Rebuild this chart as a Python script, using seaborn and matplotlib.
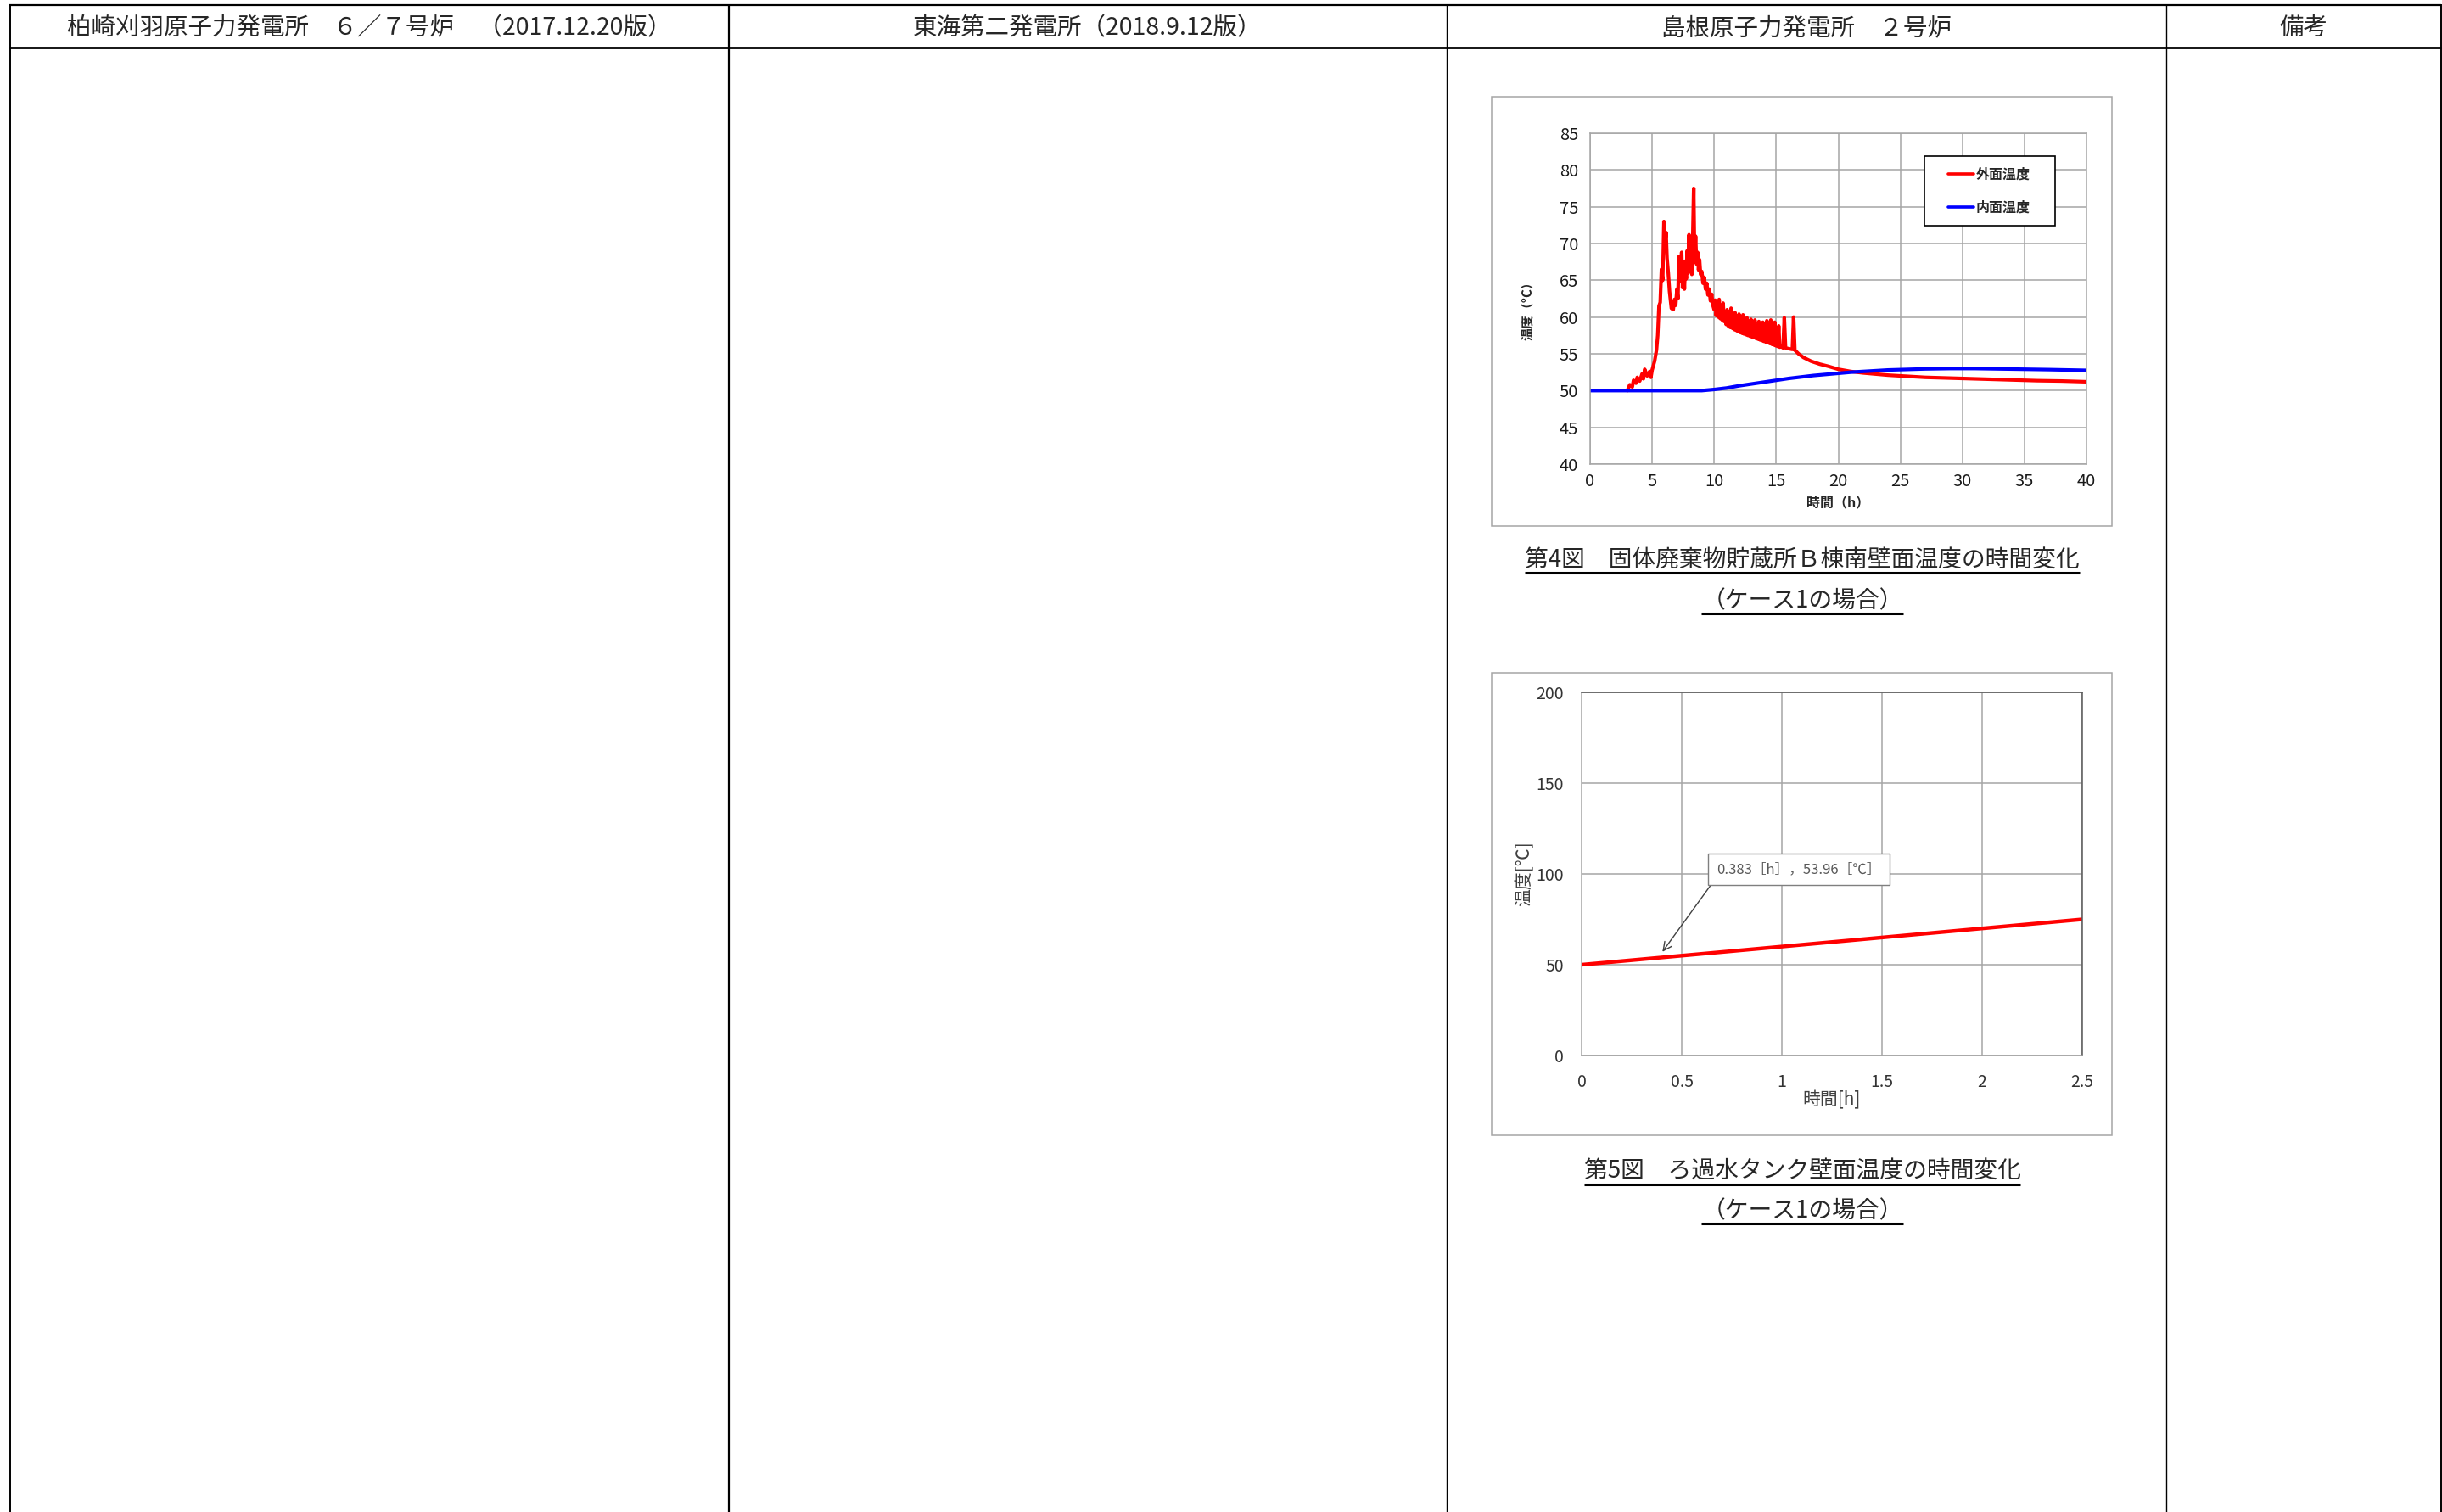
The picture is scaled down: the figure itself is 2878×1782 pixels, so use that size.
import numpy as np
import pandas as pd
import matplotlib
matplotlib.use("Agg")
import matplotlib.pyplot as plt
import seaborn as sns
from matplotlib.lines import Line2D
from matplotlib.patches import Rectangle

# header of the comparison table
headers = ["柏崎刈羽原子力発電所　６／７号炉　（2017.12.20版）",
           "東海第二発電所（2018.9.12版）",
           "島根原子力発電所　２号炉",
           "備考"]

# fig.4 : solid waste store B, south wall (case 1)
outer_time = [3.0, 3.2, 3.4, 3.5, 3.7, 3.8, 4.0, 4.2, 4.3, 4.4, 4.6, 4.8, 4.9, 5.0,
              5.2, 5.35, 5.45, 5.55, 5.65, 5.75, 5.85, 5.95, 6.05, 6.12, 6.2, 6.3,
              6.4, 6.55, 6.7, 6.8, 6.9, 7.0, 7.08, 7.15, 7.22, 7.3, 7.38, 7.45,
              7.52, 7.6, 7.68, 7.75, 7.82, 7.9, 7.97, 8.05, 8.12, 8.2, 8.27, 8.35,
              8.42, 8.5, 8.58, 8.66, 8.74, 8.82, 8.9, 9.0, 9.1, 9.2, 9.3, 9.4,
              9.5, 9.6, 9.7, 9.8, 9.9,
              10.0, 10.08, 10.16, 10.24, 10.32, 10.4, 10.48, 10.56, 10.64, 10.72,
              10.8, 10.88, 10.96, 11.04, 11.12, 11.2, 11.28, 11.36, 11.44, 11.52,
              11.6, 11.68, 11.76, 11.84, 11.92, 12.0, 12.08, 12.16, 12.24, 12.32,
              12.4, 12.48, 12.56, 12.64, 12.72, 12.8, 12.88, 12.96, 13.04, 13.12,
              13.2, 13.28, 13.36, 13.44, 13.52, 13.6, 13.68, 13.76, 13.84, 13.92,
              14.0, 14.08, 14.16, 14.24, 14.32, 14.4, 14.48, 14.56, 14.64, 14.72,
              14.8, 14.88, 14.96, 15.04, 15.12, 15.2, 15.28, 15.4, 15.55, 15.65,
              15.75, 16.0, 16.3, 16.4, 16.5, 16.8, 17.2, 17.8, 18.5, 19.2, 20.0,
              21.0, 22.0, 23.0, 24.0, 25.0, 26.0, 27.0, 28.0, 29.0, 30.0, 32.0,
              34.0, 36.0, 38.0, 40.0]
outer_temp = [50.0, 50.8, 50.5, 51.4, 51.0, 51.8, 51.3, 52.3, 51.6, 52.9, 52.0, 52.6, 51.8, 52.8,
              54.0, 55.5, 57.5, 61.5, 62.0, 66.5, 65.0, 73.0, 70.0, 71.5, 68.0, 66.0,
              63.5, 61.2, 61.0, 62.4, 61.6, 63.8, 62.5, 68.2, 64.8, 66.6, 68.8, 64.0,
              66.5, 63.8, 67.6, 65.2, 69.0, 66.0, 71.2, 66.2, 69.8, 65.8, 70.6, 77.5,
              68.0, 71.0, 67.2, 68.8, 66.4, 67.8, 65.8, 66.2, 64.6, 65.4, 63.8, 64.6,
              63.0, 63.8, 62.2, 63.1, 61.6,
              61.0, 62.3, 60.2, 61.8, 60.0, 62.4, 59.8, 61.2, 59.6, 61.9,
              59.4, 60.6, 59.0, 61.0, 58.8, 60.4, 58.6, 61.2, 58.5, 60.0,
              58.3, 60.6, 58.2, 59.6, 58.0, 60.4, 57.9, 59.4, 57.8, 60.3,
              57.7, 59.2, 57.6, 59.9, 57.5, 59.0, 57.4, 59.7, 57.3, 58.8,
              57.2, 59.6, 57.1, 58.7, 57.0, 59.4, 56.9, 58.6, 56.8, 59.3,
              56.7, 58.4, 56.6, 59.5, 56.5, 58.2, 56.4, 59.6, 56.3, 58.0,
              56.2, 59.3, 56.1, 57.5, 56.0, 58.8, 55.9, 56.0, 55.8, 59.9,
              55.8, 55.7, 55.6, 60.0, 55.5, 55.0, 54.5, 54.0, 53.6, 53.3, 52.9,
              52.6, 52.4, 52.25, 52.1, 52.0, 51.9, 51.8, 51.75, 51.7, 51.65, 51.55,
              51.45, 51.35, 51.3, 51.2]
inner_time = [0, 5, 9, 10, 11, 12, 13, 14, 15, 16, 17, 18, 19, 20, 21, 22, 23, 24,
              25, 27, 29, 31, 33, 35, 37, 40]
inner_temp = [50.0, 50.0, 50.0, 50.15, 50.35, 50.65, 50.9, 51.15, 51.4, 51.65, 51.85,
              52.05, 52.2, 52.35, 52.5, 52.6, 52.7, 52.8, 52.85, 52.95, 53.0, 53.0,
              52.95, 52.9, 52.85, 52.75]
series_names = ["外面温度", "内面温度"]
series_colors = ["#ff0000", "#0000ff"]

# fig.5 : filtered water tank wall (case 1)
tank_time = [0.0, 0.5, 1.0, 1.5, 2.0, 2.5]
tank_temp = [50.0, 55.0, 60.0, 65.0, 70.0, 75.0]
note_time = 0.383
note_temp = 53.96

captions = ["第4図　固体廃棄物貯蔵所Ｂ棟南壁面温度の時間変化", "（ケース1の場合）",
            "第5図　ろ過水タンク壁面温度の時間変化", "（ケース1の場合）"]

sns.set_style("white")
plt.rcParams['font.family'] = ['Noto Sans CJK JP', 'DejaVu Sans']

W, H = 2878, 1782
fig = plt.figure(figsize=(W / 100, H / 100), dpi=100)


def fx(px):
    return px / W


def fy(py):
    return 1 - py / H


def hline(y, x0, x1, lw):
    fig.add_artist(Line2D([fx(x0), fx(x1)], [fy(y), fy(y)], color="black", lw=lw,
                          transform=fig.transFigure, solid_capstyle="butt"))


def vline(x, y0, y1, lw):
    fig.add_artist(Line2D([fx(x), fx(x)], [fy(y0), fy(y1)], color="black", lw=lw,
                          transform=fig.transFigure, solid_capstyle="butt"))


# table frame
hline(6, 11, 2877, 1.6)
hline(56, 11, 2877, 2.0)
vline(11.5, 5, H, 1.4)
vline(859, 5, H, 1.6)
vline(1705, 5, H, 1.0)
vline(2553, 5, H, 1.0)
vline(2876.5, 5, H, 1.4)

col_edges = [11, 859, 1705, 2553, 2877]
for i, h in enumerate(headers):
    cx = (col_edges[i] + col_edges[i + 1]) / 2
    fig.text(fx(cx), fy(33), h, ha="center", va="center", fontsize=20.5)

# gray frames around the pasted charts
for x0, y0, x1, y1 in [(1758, 114, 2489, 620), (1758, 793, 2489, 1338)]:
    fig.add_artist(Rectangle((fx(x0), fy(y1)), fx(x1 - x0), (y1 - y0) / H,
                             transform=fig.transFigure, fill=False,
                             ec="#a6a6a6", lw=1.1))

grid_c = "#a6a6a6"
narrow = ['Liberation Sans Narrow', 'Noto Sans CJK JP']

# ---- fig.4
ax1 = fig.add_axes([fx(1874), fy(547), fx(2459 - 1874), (547 - 157) / H])
case1 = pd.concat([
    pd.DataFrame({"時間": outer_time, "温度": outer_temp, "系列": series_names[0]}),
    pd.DataFrame({"時間": inner_time, "温度": inner_temp, "系列": series_names[1]}),
])
sns.lineplot(data=case1, x="時間", y="温度", hue="系列", hue_order=series_names,
             palette=series_colors, linewidth=3.0, estimator=None, sort=False, ax=ax1)
ax1.set_xlim(0, 40)
ax1.set_ylim(40, 85)
ax1.set_xticks(np.arange(0, 41, 5))
ax1.set_yticks(np.arange(40, 86, 5))
ax1.grid(True, color=grid_c, lw=1.1)
for s in ax1.spines.values():
    s.set_color(grid_c)
    s.set_linewidth(1.1)
ax1.tick_params(length=4, color=grid_c, width=1.1, pad=6, labelsize=14.5, labelcolor="#1a1a1a")
ax1.tick_params(axis="x", pad=3)
for lab in ax1.get_xticklabels() + ax1.get_yticklabels():
    lab.set_family(narrow)
ax1.set_xlabel("時間（h）", fontsize=11.5, fontweight="bold")
ax1.set_ylabel("温度（°C）", fontsize=11, fontweight="bold")
ax1.xaxis.set_label_coords(0.5, -0.097)
ax1.yaxis.set_label_coords(-0.113, 0.472)
# legend entries without frame, frame drawn as its own box
leg = ax1.legend(loc="center left", bbox_to_anchor=(0.7214, 0.8255), borderaxespad=0,
                 fontsize=11.5, frameon=False, borderpad=0,
                 handlelength=1.85, handletextpad=0.2, labelspacing=1.45)
for t in leg.get_texts():
    t.set_fontweight("bold")
for l in leg.get_lines():
    l.set_linewidth(2.6)
ax1.add_patch(Rectangle((0.6735, 0.7205), 0.937 - 0.6735, 0.931 - 0.7205,
                        transform=ax1.transAxes, fill=True, fc="white",
                        ec="black", lw=1.2, zorder=4))
leg.set_zorder(5)

# ---- fig.5
ax2 = fig.add_axes([fx(1864), fy(1244), fx(2454 - 1864), (1244 - 816) / H])
sns.lineplot(x=tank_time, y=tank_temp, color="#ff0000", linewidth=3.2, ax=ax2)
ax2.set_xlim(0, 2.5)
ax2.set_ylim(0, 200)
ax2.set_xticks([0, 0.5, 1, 1.5, 2, 2.5])
ax2.set_xticklabels(["0", "0.5", "1", "1.5", "2", "2.5"])
ax2.set_yticks([0, 50, 100, 150, 200])
ax2.grid(True, color=grid_c, lw=1.1)
for k, s in ax2.spines.items():
    s.set_linewidth(1.1)
    s.set_color("#595959" if k in ("top", "right") else grid_c)
ax2.tick_params(length=7, color=grid_c, width=1.1, pad=8, labelsize=14, labelcolor="#333333")
ax2.set_xlabel("時間[h]", fontsize=15, color="#404040")
ax2.set_ylabel("温度[℃]", fontsize=15, color="#404040")
ax2.xaxis.set_label_coords(0.5, -0.097)
ax2.yaxis.set_label_coords(-0.095, 0.5)
ax2.annotate(f"{note_time:.3f}［h］，{note_temp:.2f}［℃］",
             xy=(note_time, note_temp), xytext=(0.434, 0.512), textcoords="axes fraction",
             ha="center", va="center", fontsize=12, color="#595959",
             bbox=dict(boxstyle="square,pad=0.6", fc="white", ec="#7f7f7f", lw=1),
             arrowprops=dict(arrowstyle="->", color="#404040", lw=1, relpos=(0, 0),
                             shrinkA=0, shrinkB=6, mutation_scale=18))

# captions with underline
fig.canvas.draw()
renderer = fig.canvas.get_renderer()
cap_y = [660, 708, 1381, 1427]
for s, y in zip(captions, cap_y):
    t = fig.text(fx(2124), fy(y), s, ha="center", va="center", fontsize=20)
    bb = t.get_window_extent(renderer)
    hline(y + 15, bb.x0, bb.x1, 2.2)

fig.savefig("out.png", dpi=100)
